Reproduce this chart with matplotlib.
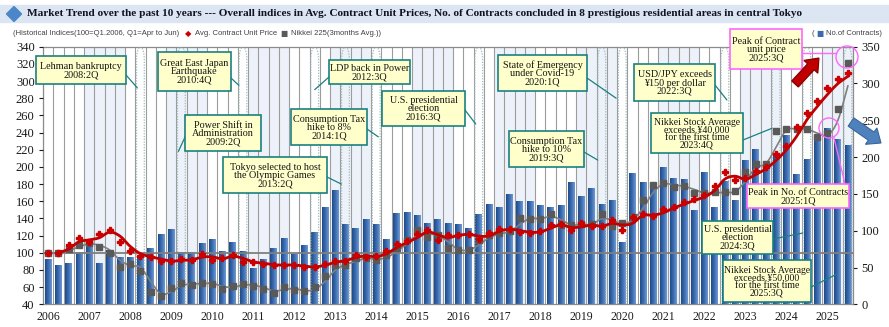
import numpy as np
import matplotlib
matplotlib.use("Agg")
import matplotlib.pyplot as plt
from matplotlib.patches import Rectangle, Polygon, Ellipse, ConnectionPatch
from matplotlib.colors import LinearSegmentedColormap
from matplotlib.transforms import Affine2D

# ---------------- data (quarterly, Q1 = Apr-Jun) ----------------
years = list(range(2006, 2026))

# No. of contracts (right axis)
contracts = [60, 52, 55, 70, 78, 55, 73, 63, 63, 65, 76, 94, 101, 70, 70, 82,
             87, 72, 83, 72, 48, 60, 75, 89, 67, 79, 97, 131, 154, 108, 103, 115,
             108, 87, 123, 124, 120, 109, 115, 109, 108, 102, 121, 135, 131, 149, 139, 139,
             134, 131, 134, 165, 146, 157, 135, 140, 83, 177, 165, 160, 186, 170, 169, 127,
             178, 131, 167, 140, 195, 210, 184, 200, 229, 176, 197, 225, 239, 224, 216]

# Avg. contract unit price index (left axis, 100 = Q1.2006)
unit_price = [100, 100, 108.7, 117, 113, 122, 126, 113, 102, 96, 94.7, 90.8, 90, 92.4, 91.2, 98.6,
              92, 94, 97.8, 89.5, 89.3, 86.6, 85.6, 85.8, 85.8, 83, 84, 87, 90.8, 91, 97.8, 95,
              96, 102, 110, 113.7, 121.5, 127, 115, 120.2, 120.5, 122.3, 116.6, 122.6, 127.6, 127.3, 124.4, 123.6,
              125, 132.2, 133, 126, 134.3, 130.8, 130.7, 137.8, 127, 141.6, 145.4, 142.4, 150.6, 153.7, 159, 163,
              167, 177.8, 193.8, 184.6, 186.7, 195.4, 200.2, 214.8, 224.8, 246.4, 263.3, 277, 291.5, 302, 309]

# Nikkei 225, 3-month average index (left axis)
nikkei = [100, 100, 104.7, 109.4, 111, 106.4, 100, 83, 87, 79, 54.3, 50, 59.3, 64.4, 62.8, 65.2,
          63.6, 58.2, 61.3, 63.5, 61.5, 57.5, 53.7, 60.2, 56.7, 55, 59.8, 73.3, 86.3, 86, 93.6, 93.8,
          91.2, 97.4, 106, 115, 126, 118.4, 121, 105, 103, 103.5, 114.5, 120.5, 123.6, 125.2, 140.7, 139.4,
          139.7, 144.8, 132.5, 132.7, 133, 133.5, 145.5, 131.2, 135, 142, 161, 179, 181, 177, 177.8, 170,
          169.2, 170.4, 170.4, 172, 194.2, 203.8, 203.8, 241.8, 244, 244, 244, 235, 239, 268, 320.6]

# quarter index of each marked event
event_quarters = [9, 13, 19, 26, 29, 32, 42, 54, 56, 66, 71, 74, 78]

# ---------------- helpers ----------------
W, H = 889, 327


def moving_avg2(v):
    v = np.asarray(v, float)
    return (v[1:] + v[:-1]) / 2.0


def smooth_curve(x, y, steps=12):
    x = np.asarray(x, float)
    y = np.asarray(y, float)
    px = np.concatenate([[2 * x[0] - x[1]], x, [2 * x[-1] - x[-2]]])
    py = np.concatenate([[2 * y[0] - y[1]], y, [2 * y[-1] - y[-2]]])
    t = np.linspace(0, 1, steps, endpoint=False)
    ox, oy = [], []
    for k in range(1, len(px) - 2):
        for p, o in ((px, ox), (py, oy)):
            p0, p1, p2, p3 = p[k - 1], p[k], p[k + 1], p[k + 2]
            o.extend(0.5 * (2 * p1 + (-p0 + p2) * t
                            + (2 * p0 - 5 * p1 + 4 * p2 - p3) * t ** 2
                            + (-p0 + 3 * p1 - 3 * p2 + p3) * t ** 3))
    ox.append(x[-1])
    oy.append(y[-1])
    return np.array(ox), np.array(oy)


fig = plt.figure(figsize=(W / 100, H / 100), dpi=100)
fig.patch.set_facecolor("white")
PX = Affine2D().scale(1.0 / W, -1.0 / H).translate(0, 1) + fig.transFigure

SERIF = ["Liberation Serif", "DejaVu Serif"]
SANS = ["Liberation Sans", "DejaVu Sans"]


def fit_width(txt, target, base):
    fig.canvas.draw()
    w = txt.get_window_extent().width
    txt.set_fontsize(base * target / w)
    return base * target / w


# ---------------- axes ----------------
ax = fig.add_axes([43 / W, (H - 304.3) / H, 810 / W, 257.6 / H])
ax2 = ax.twinx()
n = len(contracts)
idx = np.arange(n)

# alternate-year shading and quarter grid
for y in years[1::2]:
    s = (y - years[0]) * 4 - 0.5
    ax.axvspan(s, s + 4, color="#EDF1F9", zorder=0, lw=0)
ax.vlines(np.arange(-0.5, n + 0.5, 1), 0, 350, color="#9C9C9C", lw=0.8, zorder=1)

# contracts bars with a horizontal gradient
bar_cmap = LinearSegmentedColormap.from_list("bar", ["#1E4B8A", "#3B6BAF", "#6E9AD3"])
grad = np.linspace(0, 1, 32).reshape(1, -1)
bw = 0.32
for i, v in enumerate(contracts):
    ax.imshow(grad, cmap=bar_cmap, extent=(i - bw, i + bw, 0, v), aspect="auto",
              zorder=2, interpolation="bilinear")

ax.set_xlim(-0.5, n - 0.5)
ax.set_ylim(0, 350)
ax.yaxis.tick_right()
ax.set_yticks(range(0, 351, 50))
ax.set_xticks(range(0, n, 4))
ax.set_xticklabels([str(y) for y in years])
ax.tick_params(axis="x", length=0, pad=5, labelsize=8.5, colors="#1a1a1a")
ax.tick_params(axis="y", right=True, left=False, labelright=True, labelleft=False,
               length=3, pad=3, labelsize=9, colors="#1a1a1a")
for lab in ax.get_xticklabels() + ax.get_yticklabels():
    lab.set_family(SERIF)
for sp in ax.spines.values():
    sp.set_color("#8C8C8C")
    sp.set_linewidth(0.9)

# ---------------- index lines ----------------
ax2.set_ylim(40, 340)
ax2.set_xlim(-0.5, n - 0.5)
ax2.patch.set_visible(False)
for sp in ax2.spines.values():
    sp.set_visible(False)
ax2.yaxis.tick_left()
ax2.set_yticks(range(40, 341, 20))
ax2.tick_params(axis="y", left=True, right=False, labelleft=True, labelright=False,
                length=3, pad=3, labelsize=9, colors="#1a1a1a")
for lab in ax2.get_yticklabels():
    lab.set_family(SERIF)

ax2.axhline(100, color="#7F7F7F", lw=1.3, zorder=3)

# event markers: dotted arches
for q in event_quarters:
    hw = 0.38
    th = np.linspace(np.pi, 0, 30)
    top_x = q + hw * np.cos(th)
    top_y = 324 + 16 * np.sin(th)
    xs = np.concatenate([[q - hw], top_x, [q + hw]])
    ys = np.concatenate([[40], top_y, [40]])
    ax2.plot(xs, ys, ls=(0, (1, 1.2)), color="#9DBDBB", lw=0.9, zorder=2.5)

# trend lines (2-quarter moving average), then the quarterly points
mx = idx[1:]
gx, gy = smooth_curve(mx, moving_avg2(nikkei))
ax2.plot(gx, gy, color="#7F7F7F", lw=1.2, zorder=4)
ax2.plot(idx, nikkei, ls="none", marker="s", ms=4.6, color="#595959", zorder=5)
rx, ry = smooth_curve(mx, moving_avg2(unit_price))
ax2.plot(rx, ry, color="#C00000", lw=2.0, zorder=6)
ax2.plot(idx, unit_price, ls="none", marker="P", ms=5, color="#CC0000", zorder=7)

# ---------------- header ----------------
fig.add_artist(Rectangle((0, 5), W, 17, transform=PX, color="#DCE6F2", zorder=1))
fig.add_artist(Polygon([(14, 6.5), (21.5, 14), (14, 21.5), (6.5, 14)], closed=True,
                       transform=PX, color="#4A86C8", zorder=2))
title = fig.text(27 / W, 1 - 14 / H,
                 "Market Trend over the past 10 years --- Overall indices in Avg. Contract Unit Prices, "
                 "No. of Contracts concluded in 8 prestigious residential areas in central Tokyo",
                 family=SERIF, weight="bold", fontsize=8, va="center", ha="left",
                 color="#111122", zorder=3)
fit_width(title, 776, 8)

# legend line under the title
sub_y = 1 - 33.5 / H
sub_kw = dict(family=SANS, color="#404040", va="center")
first = fig.text(13 / W, sub_y, "(Historical Indices(100=Q1.2006, Q1=Apr to Jun)", fontsize=6, **sub_kw)
fs = fit_width(first, 168, 6)
fig.text(185 / W, sub_y, "\u25C6", family=["DejaVu Sans"], fontsize=fs + 0.5, color="#CC0000", va="center")
fig.text(195 / W, sub_y, "Avg. Contract Unit Price", fontsize=fs, **sub_kw)
fig.text(280 / W, sub_y, "\u25A0", family=["DejaVu Sans"], fontsize=fs, color="#595959", va="center")
fig.text(291 / W, sub_y, "Nikkei 225(3months Avg.))", fontsize=fs, **sub_kw)
fig.text(811 / W, sub_y, "(", fontsize=fs, **sub_kw)
fig.text(816 / W, sub_y, "\u25A0", family=["DejaVu Sans"], fontsize=fs, color="#3B6BAF", va="center")
fig.text(826 / W, sub_y, "No.of Contracts)", fontsize=fs, **sub_kw)

# ---------------- callouts ----------------
TEAL = "#1A8080"
PINK = "#FF66FF"
BOXFILL = "#FFFFCC"

callouts = [
    ("Lehman bankruptcy\n2008:2Q", (36, 56, 126, 84), (126, 75), (8.7, 292)),
    ("Great East Japan\nEarthquake\n2010:4Q", (158, 52, 231, 91), (231, 78), (18.6, 295)),
    ("Power Shift in\nAdministration\n2009:2Q", (185, 115, 261, 151), (186, 135), (12.7, 218)),
    ("Tokyo selected to host\nthe Olympic Games\n2013:2Q", (223, 157, 327, 193), (327, 177), (28.6, 180)),
    ("LDP back in Power\n2012:3Q", (329, 60, 410, 84), (329, 77), (26.0, 290)),
    ("Consumption Tax\nhike to 8%\n2014:1Q", (291, 109, 367, 145), (367, 129), (32.2, 235)),
    ("U.S. presidential\nelection\n2016:3Q", (382, 91, 465, 126), (465, 110), (41.7, 250)),
    ("State of Emergency\nunder Covid-19\n2020:1Q", (498, 55, 587, 91), (587, 78), (55.4, 280)),
    ("Consumption Tax\nhike to 10%\n2019:3Q", (509, 131, 584, 167), (584, 152), (53.6, 208)),
    ("USD/JPY exceeds\n\u00A5150 per dollar\n2022:3Q", (634, 64, 715, 101), (715, 85), (66.2, 278)),
    ("Nikkei Stock Average\nexceeds \u00A540,000\nfor the first time\n2023:4Q",
     (651, 113, 743, 153), (743, 140), (70.6, 245)),
    ("U.S. presidential\nelection\n2024:3Q", (702, 221, 773, 254), (773, 239), (73.6, 123)),
    ("Nikkei Stock Average\nexceeds \u00A550,000\nfor the first time\n2025:3Q",
     (723, 260, 811, 302), (811, 287), (76.9, 75)),
]


def draw_box(text, box, edge):
    x0, y0, x1, y1 = box
    fig.add_artist(Rectangle((x0, y0), x1 - x0, y1 - y0, transform=PX, facecolor=BOXFILL,
                             edgecolor=edge, lw=1.2, zorder=20))
    four = text.count("\n") >= 3
    fig.text(((x0 + x1) / 2) / W, 1 - ((y0 + y1) / 2 + 0.5) / H, text, family=SERIF,
             fontsize=7.0 if four else 7.3, ha="center", va="center",
             linespacing=0.8 if four else 0.9, color="#141414", zorder=21)


for text, box, start, end in callouts:
    con = ConnectionPatch(xyA=start, coordsA=PX, xyB=end, coordsB=ax2.transData,
                          color=TEAL, lw=0.9, zorder=19)
    fig.add_artist(con)
    draw_box(text, box, TEAL)

# peak highlights
fig.add_artist(Ellipse((847, 57), 22, 22, transform=PX, fill=False, edgecolor=PINK, lw=1.0, zorder=19))
fig.add_artist(Ellipse((829, 128), 20, 20, transform=PX, fill=False, edgecolor=PINK, lw=1.0, zorder=19))
fig.add_artist(plt.Line2D([802, 836], [52.5, 52.5], transform=PX, color=PINK, lw=1.0, zorder=19))
fig.add_artist(plt.Line2D([845, 834], [184, 138], transform=PX, color=PINK, lw=1.0, zorder=19))
draw_box("Peak of Contract\nunit price\n2025:3Q", (730, 29, 802, 69), PINK)
draw_box("Peak in No. of Contracts\n2025:1Q", (747, 184, 849, 208), PINK)


def block_arrow(tail, tip, shaft, head_w, head_l, face, edge):
    tail = np.array(tail, float)
    tip = np.array(tip, float)
    d = tip - tail
    L = np.hypot(*d)
    u = d / L
    nrm = np.array([-u[1], u[0]])
    b = tip - u * head_l
    pts = [tail + nrm * shaft / 2, b + nrm * shaft / 2, b + nrm * head_w / 2, tip,
           b - nrm * head_w / 2, b - nrm * shaft / 2, tail - nrm * shaft / 2]
    fig.add_artist(Polygon(pts, closed=True, transform=PX, facecolor=face, edgecolor=edge,
                           lw=0.8, zorder=22))


block_arrow((795, 84), (819, 58), 9, 19, 12, "#C00000", "#7A0000")
block_arrow((851, 122), (881, 143), 10, 20, 12, "#4F81BD", "#3A6699")

fig.savefig("out.png", dpi=100)
